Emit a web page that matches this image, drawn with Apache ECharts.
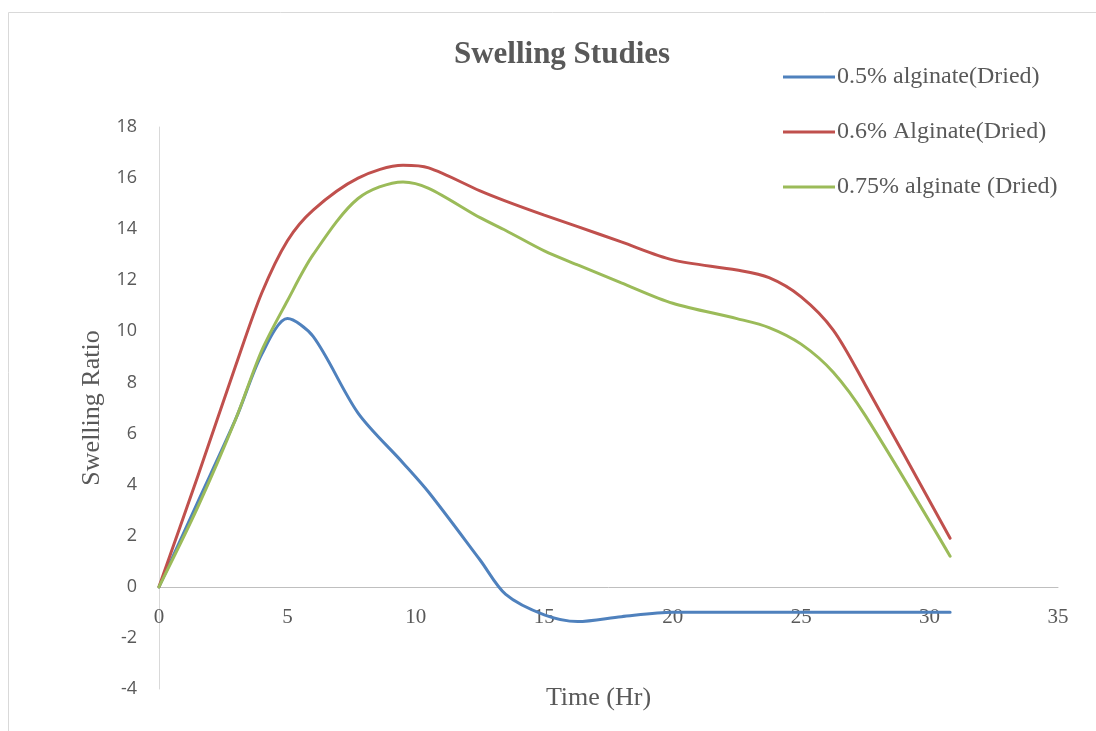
<!DOCTYPE html>
<html>
<head>
<meta charset="utf-8">
<script src="https://cdn.jsdelivr.net/npm/echarts@6/dist/echarts.min.js"></script>
<style>html,body{margin:0;padding:0;background:#fff}#c{width:1096px;height:731px}</style>
</head>
<body>
<div id="c"></div>
<script>
const timeHr = [0, 1.5, 3, 4, 5, 6, 7.75, 9.5, 10.5, 12.5, 13.5, 15, 16.3, 18, 20, 22.5, 23.75, 25, 26.25, 27.5, 30.8];
const alg05  = [0, 3.3, 6.6, 9.1, 10.5, 9.8, 6.8, 4.85, 3.7, 1.05, -0.3, -1.1, -1.36, -1.17, -1.0, -1, -1, -1, -1, -1, -1];
const alg06  = [0, 4.3, 8.7, 11.5, 13.55, 14.75, 16.0, 16.5, 16.4, 15.5, 15.1, 14.55, 14.1, 13.5, 12.8, 12.4, 12.1, 11.35, 10.05, 7.9, 1.9];
const alg075 = [0, 3.1, 6.6, 9.25, 11.2, 13.0, 15.2, 15.85, 15.6, 14.45, 13.95, 13.15, 12.6, 11.9, 11.1, 10.5, 10.15, 9.5, 8.4, 6.7, 1.2];
const seriesNames = ['0.5% alginate(Dried)', '0.6% Alginate(Dried)', '0.75% alginate (Dried)'];
const xTickValues = [0, 5, 10, 15, 20, 25, 30, 35];
const colors = ['#4f81bd', '#c0504d', '#9bbb59'];

const pairs = arr => timeHr.map((t, i) => [t, arr[i]]);
const chart = echarts.init(document.getElementById('c'));
const txt = '#595959';
chart.setOption({
  animation: false,
  color: colors,
  title: {
    text: 'Swelling Studies', left: 557, top: 34, textAlign: 'center',
    textStyle: {fontFamily: 'Liberation Serif', fontWeight: 'bold', fontSize: 31, color: txt}
  },
  legend: {
    orient: 'vertical', left: 778, top: 60, itemGap: 31, itemWidth: 52, itemHeight: 3,
    icon: 'rect',
    textStyle: {fontFamily: 'Liberation Serif', fontSize: 24, color: txt, padding: [0, 0, 0, -3]},
    data: seriesNames
  },
  graphic: [{
    type: 'rect', shape: {x: 8.5, y: 12.5, width: 1200, height: 900},
    style: {fill: 'none', stroke: '#d9d9d9', lineWidth: 1}, silent: true, z: -1
  }],
  grid: {left: 159, right: 38, top: 127, bottom: 42, outerBoundsMode: 'none', containLabel: false},
  xAxis: {
    type: 'value', min: xTickValues[0], max: xTickValues[xTickValues.length - 1], interval: 5,
    name: 'Time (Hr)', nameLocation: 'middle', nameGap: -4,
    nameTextStyle: {fontFamily: 'Liberation Serif', fontSize: 26, color: txt, padding: [0, 20, 0, 0]},
    axisLine: {onZero: true, lineStyle: {color: '#bfbfbf', width: 1}},
    axisTick: {show: false},
    splitLine: {show: false},
    axisLabel: {margin: -82, fontFamily: 'Liberation Serif', fontSize: 21, color: txt}
  },
  yAxis: {
    type: 'value', min: -4, max: 18, interval: 2,
    name: 'Swelling Ratio', nameLocation: 'middle', nameGap: 54, nameRotate: 90,
    nameTextStyle: {fontFamily: 'Liberation Serif', fontSize: 26, color: txt},
    axisLine: {show: true, lineStyle: {color: '#d9d9d9', width: 1}},
    axisTick: {show: false},
    splitLine: {show: false},
    axisLabel: {margin: 22, fontFamily: 'Open Sans', fontSize: 18, color: txt}
  },
  series: [alg05, alg06, alg075].map((arr, i) => ({
    name: seriesNames[i], type: 'line', data: pairs(arr), smooth: 0.3,
    symbol: 'none', lineStyle: {width: 3, color: colors[i], cap: 'round'},
    itemStyle: {color: colors[i]}
  }))
});
</script>
</body>
</html>
